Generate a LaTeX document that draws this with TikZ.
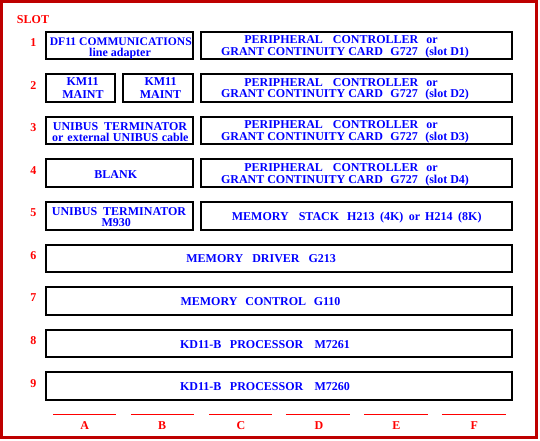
\documentclass[tikz,border=0pt]{standalone}
\usepackage{fontspec}
\setmainfont{Liberation Serif}
\newcommand\gp[1]{\hspace{#1pt}}
\definecolor{framered}{RGB}{190,0,0}
\definecolor{txtblue}{RGB}{0,0,255}
\definecolor{lblred}{RGB}{255,0,0}
\begin{document}
\begin{tikzpicture}[x=1pt,y=-1pt,
  card/.style={draw=black, line width=2pt, inner sep=0pt, outer sep=0pt, anchor=north west, minimum height=27.6pt},
  txt/.style={text=txtblue, font=\fontsize{12}{12.5}\selectfont\bfseries, inner sep=0pt, anchor=base},
  lbl/.style={text=lblred, font=\fontsize{12}{13}\selectfont\bfseries, inner sep=0pt, anchor=base},
  rule/.style={draw=lblred, line width=1pt}]
\useasboundingbox (0,0) rectangle (540,440);
\fill[white] (0,0) rectangle (540,440);
\draw[framered, line width=3pt] (1.5,1.4) rectangle (536.8,437.8);

% slot label
\node[lbl] (slot) at (33,23.3) {SLOT};

% row tops
\def\Ta{30.7}\def\Tb{73.28}\def\Tc{115.85}\def\Td{158.43}\def\Te{201.0}
\def\Tf{243.58}\def\Tg{286.15}\def\Th{328.73}\def\Ti{371.3}

% slot numbers
\node[lbl] (n1) at (33.3,\Ta+15.8) {1};
\node[lbl] (n2) at (33.3,\Tb+15.8) {2};
\node[lbl] (n3) at (33.3,\Tc+15.8) {3};
\node[lbl] (n4) at (33.3,\Td+15.8) {4};
\node[lbl] (n5) at (33.3,\Te+15.8) {5};
\node[lbl] (n6) at (33.3,\Tf+15.8) {6};
\node[lbl] (n7) at (33.3,\Tg+15.8) {7};
\node[lbl] (n8) at (33.3,\Th+15.8) {8};
\node[lbl] (n9) at (33.3,\Ti+15.8) {9};

% row 1
\node[card, minimum width=147pt] (b1l) at (46.3,\Ta+1) {};
\node[card, minimum width=311.3pt] (b1r) at (201,\Ta+1) {};
\node[txt, font=\fontsize{11.6}{12}\selectfont\bfseries] (t1a) at (120.8,\Ta+14.3) {DF11 COMMUNICATIONS};
\node[txt] (t1b) at (120,\Ta+25.8) {line adapter};
\node[txt] (t1c) at (341,\Ta+13) {PERIPHERAL\gp{10}CONTROLLER\gp{8}or};
\node[txt] (t1d) at (345,\Ta+24.6) {GRANT\gp{3}CONTINUITY\gp{3}CARD\gp{7.5}G727\gp{7.5}(slot D1)};

% row 2
\node[card, minimum width=69pt] (b2a) at (46.3,\Tb+1) {};
\node[card, minimum width=70pt] (b2b) at (123.3,\Tb+1) {};
\node[card, minimum width=311.3pt] (b2r) at (201,\Tb+1) {};
\node[txt] (t2a) at (82.5,\Tb+12.7) {KM11};
\node[txt] (t2b) at (83,\Tb+25.7) {MAINT};
\node[txt] (t2c) at (160.5,\Tb+12.7) {KM11};
\node[txt] (t2d) at (160.5,\Tb+25.7) {MAINT};
\node[txt] (t2e) at (341,\Tb+13) {PERIPHERAL\gp{10}CONTROLLER\gp{8}or};
\node[txt] (t2f) at (345,\Tb+24.6) {GRANT\gp{3}CONTINUITY\gp{3}CARD\gp{7.5}G727\gp{7.5}(slot D2)};

% row 3
\node[card, minimum width=147pt] (b3l) at (46.3,\Tc+1) {};
\node[card, minimum width=311.3pt] (b3r) at (201,\Tc+1) {};
\node[txt] (t3a) at (120,\Tc+14.3) {UNIBUS\gp{6}TERMINATOR};
\node[txt] (t3b) at (120.3,\Tc+26) {or\gp{4}external\gp{3.5}UNIBUS\gp{3.5}cable};
\node[txt] (t3c) at (341,\Tc+13) {PERIPHERAL\gp{10}CONTROLLER\gp{8}or};
\node[txt] (t3d) at (345,\Tc+24.6) {GRANT\gp{3}CONTINUITY\gp{3}CARD\gp{7.5}G727\gp{7.5}(slot D3)};

% row 4
\node[card, minimum width=147pt] (b4l) at (46.3,\Td+1) {};
\node[card, minimum width=311.3pt] (b4r) at (201,\Td+1) {};
\node[txt] (t4a) at (115.8,\Td+20) {BLANK};
\node[txt] (t4c) at (341,\Td+13) {PERIPHERAL\gp{10}CONTROLLER\gp{8}or};
\node[txt] (t4d) at (345,\Td+24.6) {GRANT\gp{3}CONTINUITY\gp{3}CARD\gp{7.5}G727\gp{7.5}(slot D4)};

% row 5
\node[card, minimum width=147pt] (b5l) at (46.3,\Te+1) {};
\node[card, minimum width=311.3pt] (b5r) at (201,\Te+1) {};
\node[txt] (t5a) at (119,\Te+14.5) {UNIBUS\gp{6}TERMINATOR};
\node[txt] (t5b) at (116.3,\Te+25.5) {M930};
\node[txt] (t5c) at (356.7,\Te+19.5) {MEMORY\gp{10}STACK\gp{8}H213\gp{5.5}(4K)\gp{5.5}or\gp{5}H214\gp{5.7}(8K)};

% rows 6-9
\node[card, minimum width=466.1pt] (b6) at (46.3,\Tf+1) {};
\node[txt] (t6) at (261.2,\Tf+19.4) {MEMORY\gp{9}DRIVER\gp{9}G213};
\node[card, minimum width=466.1pt] (b7) at (46.3,\Tg+1) {};
\node[txt] (t7) at (260.5,\Tg+19.3) {MEMORY\gp{8}CONTROL\gp{7.7}G110};
\node[card, minimum width=466.1pt] (b8) at (46.3,\Th+1) {};
\node[txt] (t8) at (265,\Th+19.6) {KD11-B\gp{8.5}PROCESSOR\gp{11.2}M7261};
\node[card, minimum width=466.1pt] (b9) at (46.3,\Ti+1) {};
\node[txt] (t9) at (265,\Ti+19.6) {KD11-B\gp{8.5}PROCESSOR\gp{11.2}M7260};

% column rules and letters
\draw[rule] (53,414.3) -- (115.7,414.3);
\draw[rule] (130.9,414.3) -- (193.5,414.3);
\draw[rule] (209,414.3) -- (271.7,414.3);
\draw[rule] (285.8,414.3) -- (349.9,414.3);
\draw[rule] (364,414.3) -- (427.7,414.3);
\draw[rule] (441.8,414.3) -- (505.5,414.3);
\node[lbl] (cA) at (84.7,429.3) {A};
\node[lbl] (cB) at (162.2,429.3) {B};
\node[lbl] (cC) at (241,429.3) {C};
\node[lbl] (cD) at (318.9,429.3) {D};
\node[lbl] (cE) at (396.3,429.3) {E};
\node[lbl] (cF) at (474.2,429.3) {F};
\end{tikzpicture}
\end{document}
